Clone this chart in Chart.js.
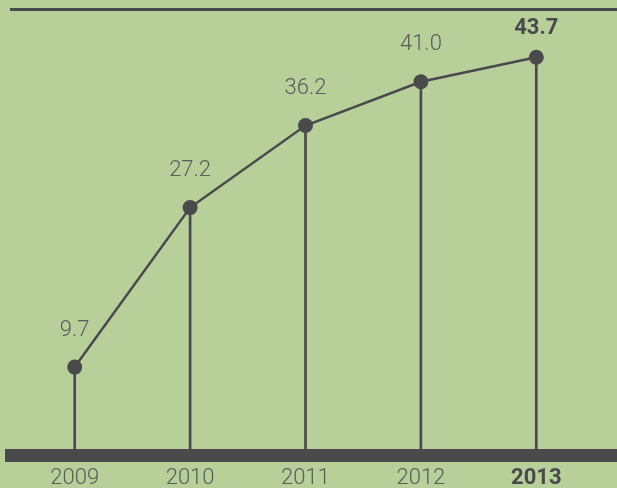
<!DOCTYPE html>
<html>
<head>
<meta charset="utf-8">
<script src="https://cdn.jsdelivr.net/npm/chart.js@4/dist/chart.umd.min.js"></script>
<style>
    html, body { margin: 0; padding: 0; background: #b7cf98; }
    #wrap { width: 617px; height: 488px; position: relative; }
</style>
</head>
<body>
<div id="wrap"><canvas id="growthChart"></canvas></div>
<script>
const years = ['2009', '2010', '2011', '2012', '2013'];
const values = [9.7, 27.2, 36.2, 41.0, 43.7];
const highlightIndex = 4;

const dark = '#4a4a4c';
const soft = '#5a5b5d';
const fontFamily = "Roboto, 'Liberation Sans', sans-serif";

// top rule + thick base bar
const frame = {
    id: 'frame',
    beforeDatasetsDraw(chart) {
        const ctx = chart.ctx;
        const area = chart.chartArea;
        const y0 = chart.scales.y.getPixelForValue(0);
        ctx.save();
        ctx.fillStyle = dark;
        ctx.fillRect(10, area.top - 10, chart.width - 10, 3);
        ctx.fillRect(5, y0 - 6.5, chart.width - 5, 13);
        ctx.restore();
    }
};

// value text above each point
const valueLabels = {
    id: 'valueLabels',
    afterDatasetsDraw(chart) {
        const ctx = chart.ctx;
        const meta = chart.getDatasetMeta(1);
        ctx.save();
        ctx.textAlign = 'center';
        ctx.textBaseline = 'middle';
        meta.data.forEach((pt, i) => {
            const bold = i === highlightIndex;
            ctx.font = (bold ? 'bold ' : '300 ') + '22px ' + fontFamily;
            ctx.fillStyle = bold ? dark : soft;
            const y = Math.max(pt.y - 37, chart.chartArea.top + 10);
            ctx.fillText(values[i].toFixed(1), pt.x, y);
        });
        ctx.restore();
    }
};

new Chart(document.getElementById('growthChart'), {
    data: {
        labels: years,
        datasets: [
            {
                type: 'bar',
                data: values,
                backgroundColor: dark,
                barThickness: 2,
                order: 2
            },
            {
                type: 'line',
                data: values,
                borderColor: dark,
                borderWidth: 2.5,
                tension: 0,
                pointRadius: 7.5,
                pointHoverRadius: 7.5,
                pointBorderWidth: 0,
                pointBackgroundColor: dark,
                order: 1
            }
        ]
    },
    options: {
        responsive: true,
        maintainAspectRatio: false,
        animation: false,
        layout: {
            padding: { left: 17, right: 23, top: 18, bottom: 0 }
        },
        scales: {
            x: {
                offset: true,
                grid: { display: false },
                border: { display: false },
                afterFit: (scale) => { scale.height = 32.5; },
                ticks: {
                    padding: 2,
                    color: (c) => c.index === highlightIndex ? dark : soft,
                    font: (c) => ({
                        size: 22,
                        family: fontFamily,
                        weight: c.index === highlightIndex ? 'bold' : '300'
                    })
                }
            },
            y: {
                display: false,
                min: 0,
                max: 48
            }
        },
        plugins: {
            legend: { display: false },
            tooltip: { enabled: false }
        }
    },
    plugins: [frame, valueLabels]
});
</script>
</body>
</html>
